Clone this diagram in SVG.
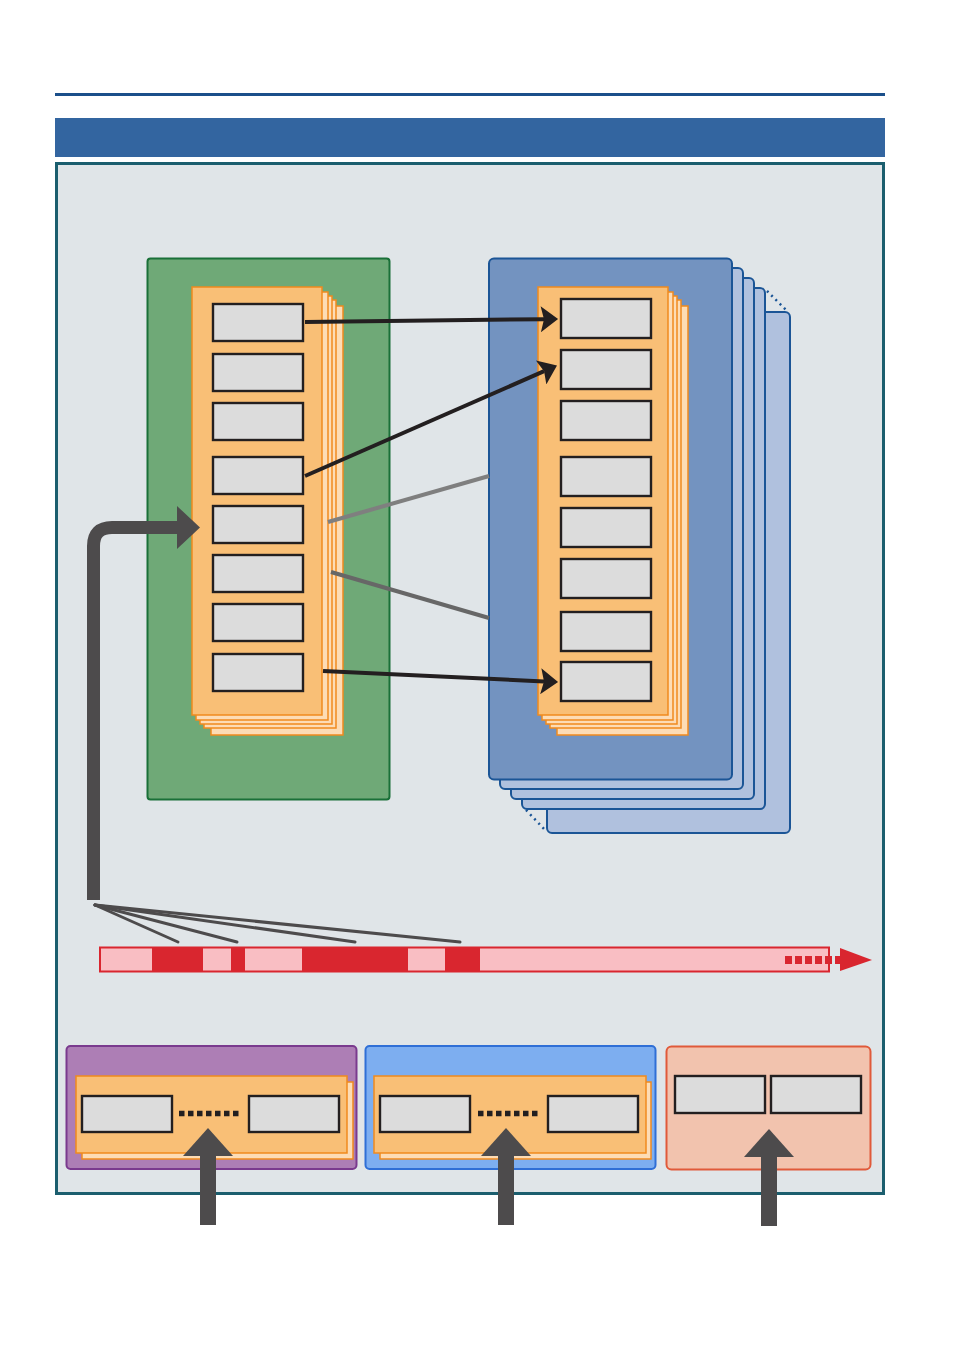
<svg xmlns="http://www.w3.org/2000/svg" width="954" height="1349" viewBox="0 0 954 1349">
<style>
.gbox{fill:#dcdcdc;stroke:#231f20;stroke-width:2.4}
.ofront{fill:#f9bf76;stroke:#f08a1e;stroke-width:1.5}
.oback{fill:#fddcb5;stroke:#f08a1e;stroke-width:1.5}
.bback{fill:#b0c1de;stroke:#1b5596;stroke-width:2}
.blk{stroke:#231f20;stroke-width:4;fill:none}
.fan{stroke:#4d4b4c;stroke-width:3;fill:none;stroke-linecap:round}
.big{fill:#4d4b4c}
</style>
<defs>
<marker id="ah" markerUnits="userSpaceOnUse" markerWidth="20" markerHeight="26" viewBox="0 0 17 24" refX="3" refY="12" orient="auto">
<path d="M0,0 L16,12 L0,24 L3,12 z" fill="#231f20"/>
</marker>
</defs>
<rect width="954" height="1349" fill="#ffffff"/>
<rect x="55" y="93" width="830" height="3" fill="#1b4f8a"/>
<rect x="55" y="118" width="830" height="39" fill="#3365a0"/>
<rect id="panel" x="56.5" y="163.5" width="827" height="1030" fill="#e0e5e8" stroke="#1b5e6e" stroke-width="3"/>

<g id="green-group">
<rect x="147.5" y="258.5" width="242" height="541" rx="3" fill="#6fa977" stroke="#1a7038" stroke-width="2"/>
<rect class="oback" x="211" y="306" width="132" height="429"/>
<rect class="oback" x="204" y="300" width="132" height="428"/>
<rect class="oback" x="200" y="296" width="132" height="428"/>
<rect class="oback" x="196" y="292" width="132" height="428"/>
<rect class="ofront" x="192" y="287" width="130" height="428"/>
<rect class="gbox" x="213" y="304" width="90" height="37"/>
<rect class="gbox" x="213" y="354" width="90" height="37"/>
<rect class="gbox" x="213" y="403" width="90" height="37"/>
<rect class="gbox" x="213" y="457" width="90" height="37"/>
<rect class="gbox" x="213" y="506" width="90" height="37"/>
<rect class="gbox" x="213" y="555" width="90" height="37"/>
<rect class="gbox" x="213" y="604" width="90" height="37"/>
<rect class="gbox" x="213" y="654" width="90" height="37"/>
</g>

<g id="blue-group">
<rect class="bback" x="547" y="312" width="243" height="521" rx="5"/>
<path d="M767,291 L788,312 M526,810 L546,831" stroke="#1b5596" stroke-width="2.5" stroke-dasharray="2,4" fill="none"/>
<rect class="bback" x="522" y="288" width="243" height="521" rx="5"/>
<rect class="bback" x="511" y="278" width="243" height="521" rx="5"/>
<rect class="bback" x="500" y="268" width="243" height="521" rx="5"/>
<rect x="489" y="258.5" width="243" height="521" rx="5" fill="#7393c0" stroke="#1b5596" stroke-width="2"/>
<rect class="oback" x="557" y="306" width="131" height="429"/>
<rect class="oback" x="550" y="300" width="131" height="428"/>
<rect class="oback" x="546" y="296" width="131" height="428"/>
<rect class="oback" x="542" y="292" width="131" height="428"/>
<rect class="ofront" x="538" y="287" width="130" height="428"/>
<rect class="gbox" x="561" y="299" width="90" height="39"/>
<rect class="gbox" x="561" y="350" width="90" height="39"/>
<rect class="gbox" x="561" y="401" width="90" height="39"/>
<rect class="gbox" x="561" y="457" width="90" height="39"/>
<rect class="gbox" x="561" y="508" width="90" height="39"/>
<rect class="gbox" x="561" y="559" width="90" height="39"/>
<rect class="gbox" x="561" y="612" width="90" height="39"/>
<rect class="gbox" x="561" y="662" width="90" height="39"/>
</g>

<g id="timeline">
<rect x="100" y="947.5" width="729" height="24" fill="#f9bec3" stroke="#d9262f" stroke-width="2"/>
<rect x="152" y="947" width="51" height="25" fill="#d9262f"/>
<rect x="231" y="947" width="14" height="25" fill="#d9262f"/>
<rect x="302" y="947" width="106" height="25" fill="#d9262f"/>
<rect x="445" y="947" width="35" height="25" fill="#d9262f"/>
<line x1="785" y1="960" x2="842" y2="960" stroke="#d9262f" stroke-width="8" stroke-dasharray="7,3"/>
<polygon points="840,948 872,960 840,971" fill="#d9262f"/>
</g>

<g id="purple-box">
<rect x="66.5" y="1046" width="290" height="123" rx="4" fill="#ad7eb5" stroke="#7a3a8e" stroke-width="2"/>
<rect class="oback" x="82" y="1082" width="271" height="77"/>
<rect class="ofront" x="76" y="1076" width="271" height="77"/>
<rect class="gbox" x="82" y="1096" width="90" height="36"/>
<rect class="gbox" x="249" y="1096" width="90" height="36"/>
<line x1="179" y1="1113.5" x2="242" y2="1113.5" stroke="#231f20" stroke-width="5.5" stroke-dasharray="5.5,3.5"/>
</g>

<g id="blue-box">
<rect x="365.5" y="1046" width="290" height="123" rx="4" fill="#7daef0" stroke="#2f6fd6" stroke-width="2"/>
<rect class="oback" x="380" y="1082" width="271" height="77"/>
<rect class="ofront" x="374" y="1076" width="272" height="77"/>
<rect class="gbox" x="380" y="1096" width="90" height="36"/>
<rect class="gbox" x="548" y="1096" width="90" height="36"/>
<line x1="478" y1="1113.5" x2="541" y2="1113.5" stroke="#231f20" stroke-width="5.5" stroke-dasharray="5.5,3.5"/>
</g>

<g id="salmon-box">
<rect x="666.5" y="1046.5" width="204" height="123" rx="5" fill="#f2c3ae" stroke="#e05a3a" stroke-width="2"/>
<rect class="gbox" x="675" y="1076" width="90" height="37"/>
<rect class="gbox" x="771" y="1076" width="90" height="37"/>
</g>

<g id="connectors">
<line x1="328" y1="522" x2="489" y2="476" stroke="#7f7f7f" stroke-width="4"/>
<line x1="331" y1="572" x2="489" y2="618" stroke="#676767" stroke-width="4"/>
<line class="blk" x1="305" y1="322" x2="544" y2="319.2" marker-end="url(#ah)"/>
<line class="blk" x1="305" y1="476" x2="544.1" y2="371.2" marker-end="url(#ah)"/>
<line class="blk" x1="323" y1="671" x2="544" y2="681.4" marker-end="url(#ah)"/>
<path d="M93.5,900 V546 Q93.5,527.5 112,527.5 H180" stroke="#4d4b4c" stroke-width="13" fill="none"/>
<polygon class="big" points="177,506 200,527.5 177,549"/>
<line class="fan" x1="95" y1="905" x2="178" y2="942"/>
<line class="fan" x1="95" y1="905" x2="237" y2="942"/>
<line class="fan" x1="95" y1="905" x2="355" y2="942"/>
<line class="fan" x1="95" y1="905" x2="460" y2="942"/>
<rect class="big" x="200" y="1154" width="16" height="71"/>
<polygon class="big" points="183,1156 208,1128 233,1156"/>
<rect class="big" x="498" y="1154" width="16" height="71"/>
<polygon class="big" points="481,1156 506,1128 531,1156"/>
<rect class="big" x="761" y="1155" width="16" height="71"/>
<polygon class="big" points="744,1157 769,1129 794,1157"/>
</g>
</svg>
